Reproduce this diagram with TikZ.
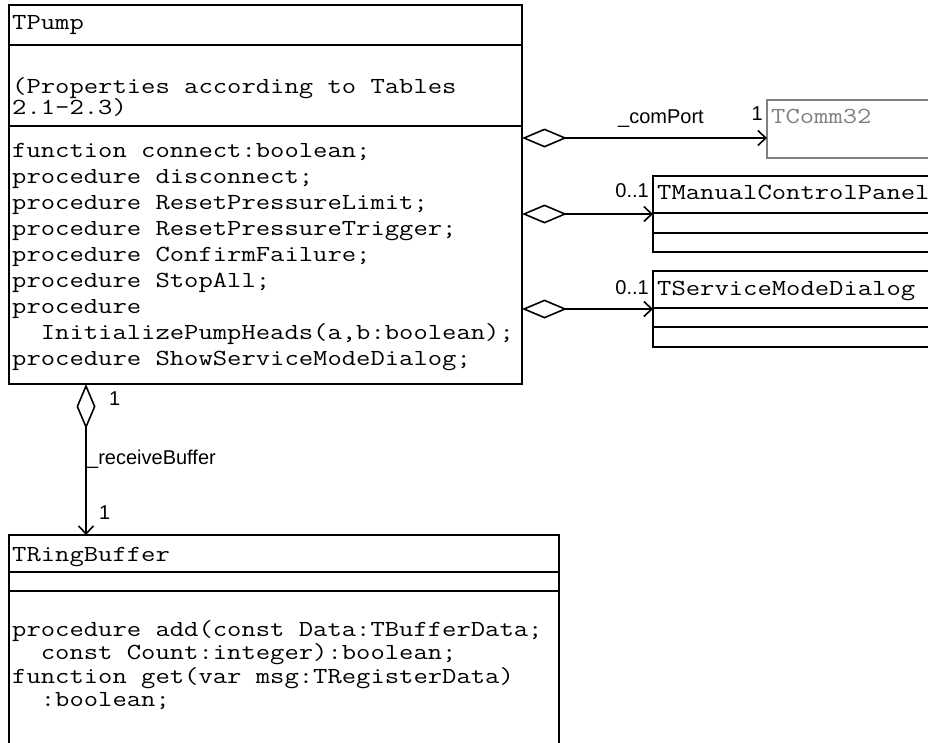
\documentclass[tikz,border=0pt]{standalone}
\usepackage{fontspec}
\usepackage{graphicx}
\newfontfamily\labelfont{Liberation Sans}
\usetikzlibrary{arrows.meta}
\definecolor{greyline}{RGB}{128,128,128}
% a block of typewriter lines with a fixed line pitch, widened to Courier proportions
\newcommand{\codeblock}[2][26]{\scalebox{1.21}[1]{\vtop{\baselineskip=#1pt\lineskiplimit=-30pt\lineskip=0pt\halign{##\hfil\cr#2\crcr}}}}
\begin{document}
\begin{tikzpicture}[x=1pt,y=-1pt,
  classbox/.style={draw, line width=1.6pt, rectangle, inner sep=0pt, outer sep=0pt, anchor=north west},
  sep/.style={line width=1.6pt},
  code/.style={font=\ttfamily\fontsize{23}{25}\selectfont, anchor=base west, inner sep=0pt},
  lbl/.style={font=\labelfont\fontsize{20}{24}\selectfont, inner sep=0pt},
  assoc/.style={line width=1.6pt, line join=miter,
    {Diamond[open,length=45pt,width=19pt,line width=1.6pt]}-{Straight Barb[length=8pt,width=15pt,line width=1.6pt]}}
]
\useasboundingbox (0,0) rectangle (928,742);
\clip (0,0) rectangle (928,742);

% class TPump
\node[classbox, minimum width=513pt, minimum height=379pt] (pump) at (9,5) {};
\draw[sep] (9,45) -- (522,45);
\draw[sep] (9,126) -- (522,126);
\node[code] (pumpname) at (12,29) {\codeblock{TPump}};
\node[code] (pumpattr) at (12,93) {\codeblock[21.5]{(Properties according to Tables\cr 2.1-2.3)}};
\node[code] (pumpops) at (12,157) {\codeblock{function connect:boolean;\cr
procedure disconnect;\cr
procedure ResetPressureLimit;\cr
procedure ResetPressureTrigger;\cr
procedure ConfirmFailure;\cr
procedure StopAll;\cr
procedure\cr
\phantom{xx}InitializePumpHeads(a,b:boolean);\cr
procedure ShowServiceModeDialog;}};

% class TComm32 (grey)
\node[classbox, draw=greyline, minimum width=220pt, minimum height=58pt] (comm) at (767,100) {};
\node[code, text=greyline] (commname) at (771,123) {\codeblock{TComm32}};

% class TManualControlPanel
\node[classbox, minimum width=300pt, minimum height=76pt] (mcp) at (653,176) {};
\draw[sep] (653,213) -- (953,213);
\draw[sep] (653,233) -- (953,233);
\node[code] (mcpname) at (657,199) {\codeblock{TManualControlPanel}};

% class TServiceModeDialog
\node[classbox, minimum width=300pt, minimum height=76pt] (smd) at (653,271) {};
\draw[sep] (653,308) -- (953,308);
\draw[sep] (653,327) -- (953,327);
\node[code] (smdname) at (657,295) {\codeblock{TServiceModeDialog}};

% class TRingBuffer
\node[classbox, minimum width=550pt, minimum height=300pt] (ring) at (9,535) {};
\draw[sep] (9,572) -- (559,572);
\draw[sep] (9,591) -- (559,591);
\node[code] (ringname) at (12,561) {\codeblock{TRingBuffer}};
\node[code] (ringops) at (12,636) {\codeblock[23.5]{procedure add(const Data:TBufferData;\cr
\phantom{xx}const Count:integer):boolean;\cr
function get(var msg:TRegisterData)\cr
\phantom{xx}:boolean;}};

% aggregation connectors
\coordinate (p1) at (522,138);
\coordinate (p2) at (522,214);
\coordinate (p3) at (522,309);
\coordinate (p4) at (86,384);
\draw[assoc] (p1) -- (comm.west |- p1);
\draw[assoc] (p2) -- (mcp.west |- p2);
\draw[assoc] (p3) -- (smd.west |- p3);
\draw[assoc] (p4) -- (p4 |- ring.north);

% role names and multiplicities
\node[lbl, anchor=base] (lcom) at (661,123) {\_comPort};
\node[lbl, anchor=base east] (mcom) at (763,120) {1};
\node[lbl, anchor=base east] (mmcp) at (649,197) {0..1};
\node[lbl, anchor=base east] (msmd) at (649,294) {0..1};
\node[lbl, anchor=base west] (lrec) at (87,464) {\_receiveBuffer};
\node[lbl, anchor=base west] (mrec1) at (109,405) {1};
\node[lbl, anchor=base west] (mrec2) at (99,519) {1};
\end{tikzpicture}
\end{document}
